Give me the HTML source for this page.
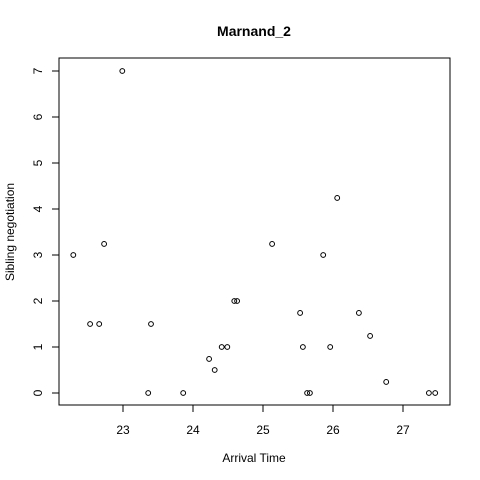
<!DOCTYPE html>
<html><head><meta charset="utf-8"><style>
html,body{margin:0;padding:0;background:#fff;}
svg{display:block;font-family:"Liberation Sans",Arial,sans-serif;}
</style></head><body>
<svg id="chart" width="480" height="480">
<text x="254" y="36" text-anchor="middle" font-weight="bold" font-size="14">Marnand_2</text>
<text x="254" y="462" text-anchor="middle" font-size="12">Arrival Time</text>
<text transform="translate(14,232) rotate(-90)" text-anchor="middle" font-size="12">Sibling negotiation</text>
<rect x="59" y="58" width="391" height="347" fill="none" stroke="#000"/>
<g id="xaxis"></g>
<g id="yaxis"></g>
<g id="points"></g>
</svg>
<script>
const xTicks=[23,24,25,26,27];
const yTicks=[0,1,2,3,4,5,6,7];
const arrival=[22.29,22.53,22.66,22.73,22.99,23.36,23.40,23.86,24.23,24.31,24.41,24.49,24.59,24.63,25.13,25.53,25.57,25.63,25.67,25.86,25.96,26.06,26.37,26.53,26.76,27.37,27.46];
const negotiation=[3,1.5,1.5,3.24,7,0,1.5,0,0.74,0.5,1,1,2,2,3.24,1.74,1,0,0,3,1,4.24,1.74,1.24,0.24,0,0];
const NS="http://www.w3.org/2000/svg";
function sx(v){return 123+(v-23)*70;}
function sy(v){return 393-v*46;}
function mk(t,a,p){const e=document.createElementNS(NS,t);for(const k in a)e.setAttribute(k,a[k]);p.appendChild(e);return e;}
const xa=document.getElementById('xaxis');
mk('line',{x1:sx(xTicks[0]),x2:sx(xTicks[xTicks.length-1]),y1:405,y2:405,stroke:'#000'},xa);
xTicks.forEach(t=>{
  const l=mk('line',{x1:sx(t),x2:sx(t),y1:405,y2:412,stroke:'#000'},xa);
  
  
  const tx=mk('text',{x:sx(t),y:434,'text-anchor':'middle','font-size':12},xa);
  tx.textContent=t;
  
  
});
const ya=document.getElementById('yaxis');
yTicks.forEach(t=>{
  const l=mk('line',{x1:52,x2:59,y1:sy(t),y2:sy(t),stroke:'#000'},ya);
  
  
  const tx=mk('text',{transform:`translate(42,${sy(t)}) rotate(-90)`,'text-anchor':'middle','font-size':12},ya);
  tx.textContent=t;
  
  
});
const pg=document.getElementById('points');
arrival.forEach((x,i)=>{
  const c=mk('circle',{cx:sx(x),cy:sy(negotiation[i]),r:2.4,fill:'none',stroke:'#000','stroke-width':1},pg);
  
  
});
</script>
</body></html>
